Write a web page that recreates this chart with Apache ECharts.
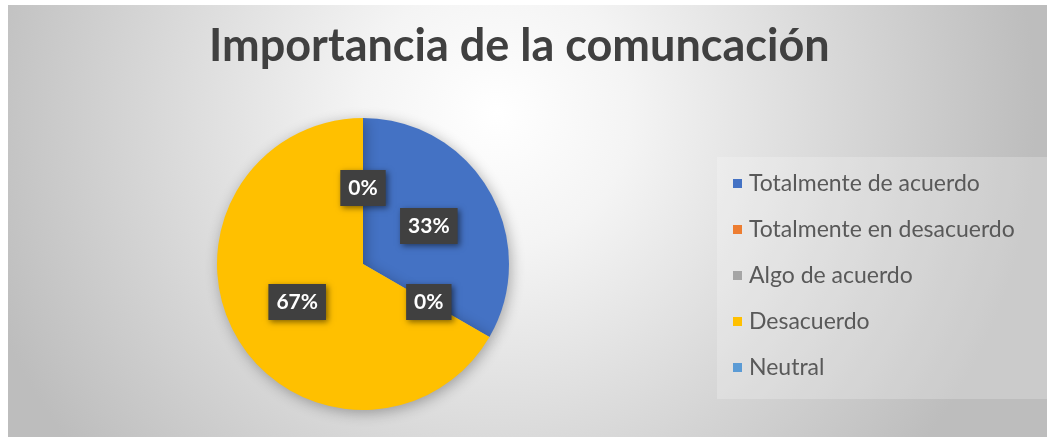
<!DOCTYPE html>
<html><head><meta charset="utf-8">
<script src="https://cdn.jsdelivr.net/npm/echarts@6/dist/echarts.min.js"></script>
<style>html,body{margin:0;padding:0;background:#fff;}#c{position:absolute;left:8px;top:5px;width:1039px;height:432px;}</style>
</head><body><div id="c"></div>
<script>
var titleText = 'Importancia de la comuncación';
var categories = ['Totalmente de acuerdo','Totalmente en desacuerdo','Algo de acuerdo','Desacuerdo','Neutral'];
var values = [1, 0, 0, 2, 0];
var colors = ['#4472C4','#ED7D31','#A5A5A5','#FFC000','#5B9BD5'];

var chart = echarts.init(document.getElementById('c'));
chart.setOption({
  backgroundColor: {type:'radial', x:0.47, y:0.25, r:1.25, colorStops:[{offset:0,color:'#ffffff'},{offset:0.25,color:'#f4f4f4'},{offset:1,color:'#bdbdbd'}]},
  color: colors,
  title: {text: titleText, left: 196, top: 14, textStyle:{fontFamily:'Lato', fontSize:45, fontWeight:'bold', color:'#404040'}},
  legend: {orient:'vertical', left: 709, top: 152, itemWidth:9, itemHeight:9, itemGap:23, icon:'rect',
    padding:[15,45,20,16], backgroundColor:'rgba(255,255,255,0.22)',
    textStyle:{fontFamily:'Lato', fontSize:23, color:'#595959', padding:[0,0,0,2]},
    data: categories},
  series: [{type:'pie', center:[355,259], radius:146, startAngle:90, clockwise:true,
    avoidLabelOverlap:false,
    data: categories.map(function(n,i){return {name:n, value:values[i]};}),
    itemStyle:{shadowBlur:14, shadowColor:'rgba(0,0,0,0.3)', shadowOffsetX:2, shadowOffsetY:3},
    label:{show:true, position:'inside', formatter:function(p){return Math.round(p.percent)+'%';},
      color:'#fff', fontFamily:'Lato', fontWeight:'bold', fontSize:21, backgroundColor:'#404040',
      padding:[8,8,7,8], shadowBlur:6, shadowColor:'rgba(0,0,0,0.5)', shadowOffsetX:2, shadowOffsetY:2},
    labelLine:{show:false}, emphasis:{disabled:true}, animation:false}]
});
</script></body></html>
